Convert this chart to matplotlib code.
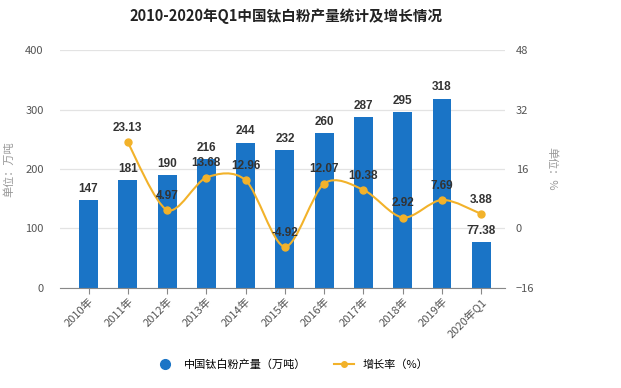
import numpy as np
import matplotlib
matplotlib.use("Agg")
import matplotlib.pyplot as plt
from matplotlib.path import Path
from matplotlib.patches import PathPatch
from matplotlib.lines import Line2D

plt.rcParams['font.family'] = ['Noto Sans CJK SC', 'DejaVu Sans']

# data
years = ["2010年", "2011年", "2012年", "2013年", "2014年", "2015年",
         "2016年", "2017年", "2018年", "2019年", "2020年Q1"]
output = [147, 181, 190, 216, 244, 232, 260, 287, 295, 318, 77.38]
growth_idx = [1, 2, 3, 4, 5, 6, 7, 8, 9, 10]
growth = [23.13, 4.97, 13.68, 12.96, -4.92, 12.07, 10.38, 2.92, 7.69, 3.88]

bar_color = "#1a74c6"
line_color = "#f2b22a"
grid_color = "#e3e3e3"
txt_gray = "#555555"
num_font = ['Liberation Sans', 'DejaVu Sans']


def smooth_path(xs, ys, k=0.15):
    """ Hladka krivka pres body (kubicke beziery) """
    xs = np.asarray(xs, float)
    ys = np.asarray(ys, float)
    verts = [(xs[0], ys[0])]
    codes = [Path.MOVETO]
    n = len(xs)
    for i in range(n - 1):
        p0 = i - 1 if i > 0 else i
        p3 = i + 2 if i + 2 < n else i + 1
        c1 = (xs[i] + (xs[i + 1] - xs[p0]) * k, ys[i] + (ys[i + 1] - ys[p0]) * k)
        c2 = (xs[i + 1] - (xs[p3] - xs[i]) * k, ys[i + 1] - (ys[p3] - ys[i]) * k)
        verts += [c1, c2, (xs[i + 1], ys[i + 1])]
        codes += [Path.CURVE4] * 3
    return Path(verts, codes)


fig = plt.figure(figsize=(6.21, 3.88), dpi=100)
ax = fig.add_axes([0.097, 0.258, 0.716, 0.613])
ax2 = ax.twinx()

x = np.arange(len(years))
ax.bar(x, output, width=0.48, color=bar_color, zorder=2)
for xi, v in zip(x, output):
    ax.text(xi, v + 9, f"{v:g}", ha="center", va="bottom", fontsize=8.5,
            fontweight="bold", color="#333333", zorder=5, family=num_font)

ax.set_ylim(0, 400)
ax.set_yticks([0, 100, 200, 300, 400])
ax.set_xlim(-0.72, 10.6)
ax.set_xticks(x)
ax.set_xticklabels(years, rotation=45, ha="right", rotation_mode="anchor",
                   fontsize=8, color=txt_gray)
ax.yaxis.grid(True, color=grid_color, lw=0.9, zorder=0)
ax.set_axisbelow(True)
ax.tick_params(axis="y", length=0, labelsize=8, labelcolor=txt_gray, pad=12)
ax.tick_params(axis="x", length=4, color="#888888", pad=2)
for s in ["top", "right", "left"]:
    ax.spines[s].set_visible(False)
ax.spines["bottom"].set_color("#888888")
ax.set_ylabel("单位：万吨", fontsize=8, color="#999999", labelpad=8)

gx = [x[i] for i in growth_idx]
ax2.add_patch(PathPatch(smooth_path(gx, growth), fill=False,
                        edgecolor=line_color, lw=1.5, zorder=3))
ax2.plot(gx, growth, "o", color=line_color, ms=5, zorder=4)
for xi, v in zip(gx, growth):
    ax2.text(xi, v + 2.2, f"{v:g}", ha="center", va="bottom", fontsize=8.5,
             fontweight="bold", color="#333333", zorder=5, family=num_font)
ax2.set_ylim(-16, 48)
ax2.set_yticks([-16, 0, 16, 32, 48])
ax2.tick_params(axis="y", length=0, labelsize=8, labelcolor=txt_gray, pad=8)
for s in ["top", "right", "left", "bottom"]:
    ax2.spines[s].set_visible(False)
ax2.set_ylabel("单位：%", fontsize=8, color="#999999", rotation=270, labelpad=16)

fig.suptitle("2010-2020年Q1中国钛白粉产量统计及增长情况", x=0.46, y=0.98,
             fontsize=10.5, fontweight="bold", color="#222222")

handles = [
    Line2D([], [], marker="o", ls="none", color=bar_color, ms=7),
    Line2D([], [], marker="o", color=line_color, ms=4, lw=1.5),
]
fig.legend(handles, ["中国钛白粉产量（万吨）", "增长率（%）"], loc="center",
           bbox_to_anchor=(0.47, 0.06), ncol=2, frameon=False, fontsize=8,
           handlelength=1.8, columnspacing=2.5)

fig.savefig("out.png", dpi=100)
